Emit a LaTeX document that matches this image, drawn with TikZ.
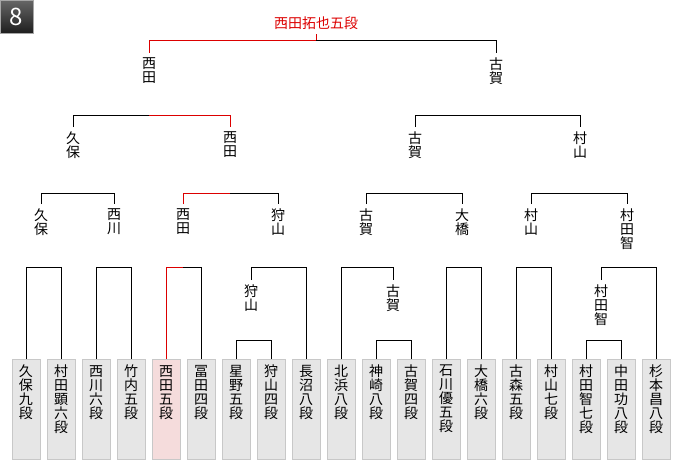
\documentclass[tikz,border=0pt]{standalone}
\usepackage{fontspec}
\setmainfont{Noto Sans CJK JP}
\usetikzlibrary{calc}
\definecolor{winred}{RGB}{220,0,0}
\definecolor{boxgray}{RGB}{230,230,230}
\definecolor{boxline}{RGB}{200,200,200}
\definecolor{winpink}{RGB}{245,220,220}
\newcommand{\vname}[1]{\parbox[c][100pt][t]{28pt}{\centering\vspace{6pt}#1}}
\tikzset{
  player/.style={draw=boxline, fill=boxgray, inner sep=0pt, anchor=north, font=\fontsize{14pt}{14pt}\selectfont},
  pick/.style={align=center, inner sep=4.5pt, anchor=north, font=\fontsize{14pt}{14pt}\selectfont},
  wire/.style={draw=black, line width=1pt},
  win/.style={draw=winred, line width=1pt},
  badge/.style={minimum size=33pt, inner sep=0pt, top color=black!60, bottom color=black!88, draw=black!35, text=white, font=\fontsize{24pt}{24pt}\selectfont}
}

\begin{document}
\begin{tikzpicture}[x=1pt, y=-1pt]
\useasboundingbox (0,0) rectangle (680,460);
\node[badge] (round) at (16.5,16.5) {8};
% bracket heights
\coordinate (rD) at (0,41);
\coordinate (rC) at (0,115);
\coordinate (rB) at (0,193);
\coordinate (rA) at (0,267);
\coordinate (rL) at (0,340);
% players
\node[player] (kubo) at (26,359) {\vname{久\\保\\九\\段}};
\node[player] (muratak) at (61,359) {\vname{村\\田\\顕\\六\\段}};
\node[player] (nishikawa) at (96,359) {\vname{西\\川\\六\\段}};
\node[player] (takeuchi) at (131,359) {\vname{竹\\内\\五\\段}};
\node[player, fill=winpink] (nishida) at (166,359) {\vname{西\\田\\五\\段}};
\node[player] (tomita) at (201,359) {\vname{冨\\田\\四\\段}};
\node[player] (hoshino) at (236,359) {\vname{星\\野\\五\\段}};
\node[player] (kariyama) at (271,359) {\vname{狩\\山\\四\\段}};
\node[player] (naganuma) at (306,359) {\vname{長\\沼\\八\\段}};
\node[player] (kitahama) at (341,359) {\vname{北\\浜\\八\\段}};
\node[player] (kanzaki) at (376,359) {\vname{神\\崎\\八\\段}};
\node[player] (koga) at (411,359) {\vname{古\\賀\\四\\段}};
\node[player] (ishikawa) at (446,359) {\vname{石\\川\\優\\五\\段}};
\node[player] (ohashi) at (481,359) {\vname{大\\橋\\六\\段}};
\node[player] (komori) at (516,359) {\vname{古\\森\\五\\段}};
\node[player] (murayama) at (551,359) {\vname{村\\山\\七\\段}};
\node[player] (murata) at (586,359) {\vname{村\\田\\智\\七\\段}};
\node[player] (nakata) at (621,359) {\vname{中\\田\\功\\八\\段}};
\node[player] (sugimoto) at (656,359) {\vname{杉\\本\\昌\\八\\段}};
% winners
\node[pick] (kariA) at (251,280) {狩\\山};
\node[pick] (kogaA) at (393,280) {古\\賀};
\node[pick] (muraA) at (601,280) {村\\田\\智};
\node[pick] (kuboB) at (41,204) {久\\保};
\node[pick] (nishikawaB) at (114,204) {西\\川};
\node[pick] (nishidaB) at (183,204) {西\\田};
\node[pick] (kariB) at (278,204) {狩\\山};
\node[pick] (kogaB) at (366,204) {古\\賀};
\node[pick] (ohashiB) at (462,204) {大\\橋};
\node[pick] (murayamaB) at (531,204) {村\\山};
\node[pick] (murataB) at (627,204) {村\\田\\智};
\node[pick] (kuboC) at (73,127) {久\\保};
\node[pick] (nishidaC) at (230,127) {西\\田};
\node[pick] (kogaC) at (415,127) {古\\賀};
\node[pick] (murayamaC) at (580,127) {村\\山};
\node[pick] (nishidaD) at (149,53) {西\\田};
\node[pick] (kogaD) at (496,53) {古\\賀};
\node[pick, anchor=center, text=winred] (champ) at (316,23) {西田拓也五段};
% first games
\draw[wire] (kubo.north) -- (kubo.north |- rA) -| (muratak.north);
\draw[wire] (nishikawa.north) -- (nishikawa.north |- rA) -| (takeuchi.north);
\draw[win] (nishida.north) -- (nishida.north |- rA) -- (nishidaB.north |- rA);
\draw[wire] (nishidaB.north |- rA) -| (tomita.north);
\draw[wire] (hoshino.north) -- (hoshino.north |- rL) -| (kariyama.north);
\draw[wire] (kariA.north) -- (kariA.north |- rA) -| (naganuma.north);
\draw[wire] (kanzaki.north) -- (kanzaki.north |- rL) -| (koga.north);
\draw[wire] (kitahama.north) -- (kitahama.north |- rA) -| (kogaA.north);
\draw[wire] (ishikawa.north) -- (ishikawa.north |- rA) -| (ohashi.north);
\draw[wire] (komori.north) -- (komori.north |- rA) -| (murayama.north);
\draw[wire] (murata.north) -- (murata.north |- rL) -| (nakata.north);
\draw[wire] (muraA.north) -- (muraA.north |- rA) -| (sugimoto.north);
% later rounds
\draw[wire] (kuboB.north) -- (kuboB.north |- rB) -| (nishikawaB.north);
\draw[win] (nishidaB.north) -- (nishidaB.north |- rB) -- (nishidaC.north |- rB);
\draw[wire] (nishidaC.north |- rB) -| (kariB.north);
\draw[wire] (kogaB.north) -- (kogaB.north |- rB) -| (ohashiB.north);
\draw[wire] (murayamaB.north) -- (murayamaB.north |- rB) -| (murataB.north);
\draw[wire] (kuboC.north) -- (kuboC.north |- rC) -- (nishidaD.north |- rC);
\draw[win] (nishidaD.north |- rC) -| (nishidaC.north);
\draw[wire] (kogaC.north) -- (kogaC.north |- rC) -| (murayamaC.north);
% final
\draw[win] (nishidaD.north) -- (nishidaD.north |- rD) -| (champ.south);
\draw[wire] (champ.south |- rD) -| (kogaD.north);
\end{tikzpicture}
\end{document}
